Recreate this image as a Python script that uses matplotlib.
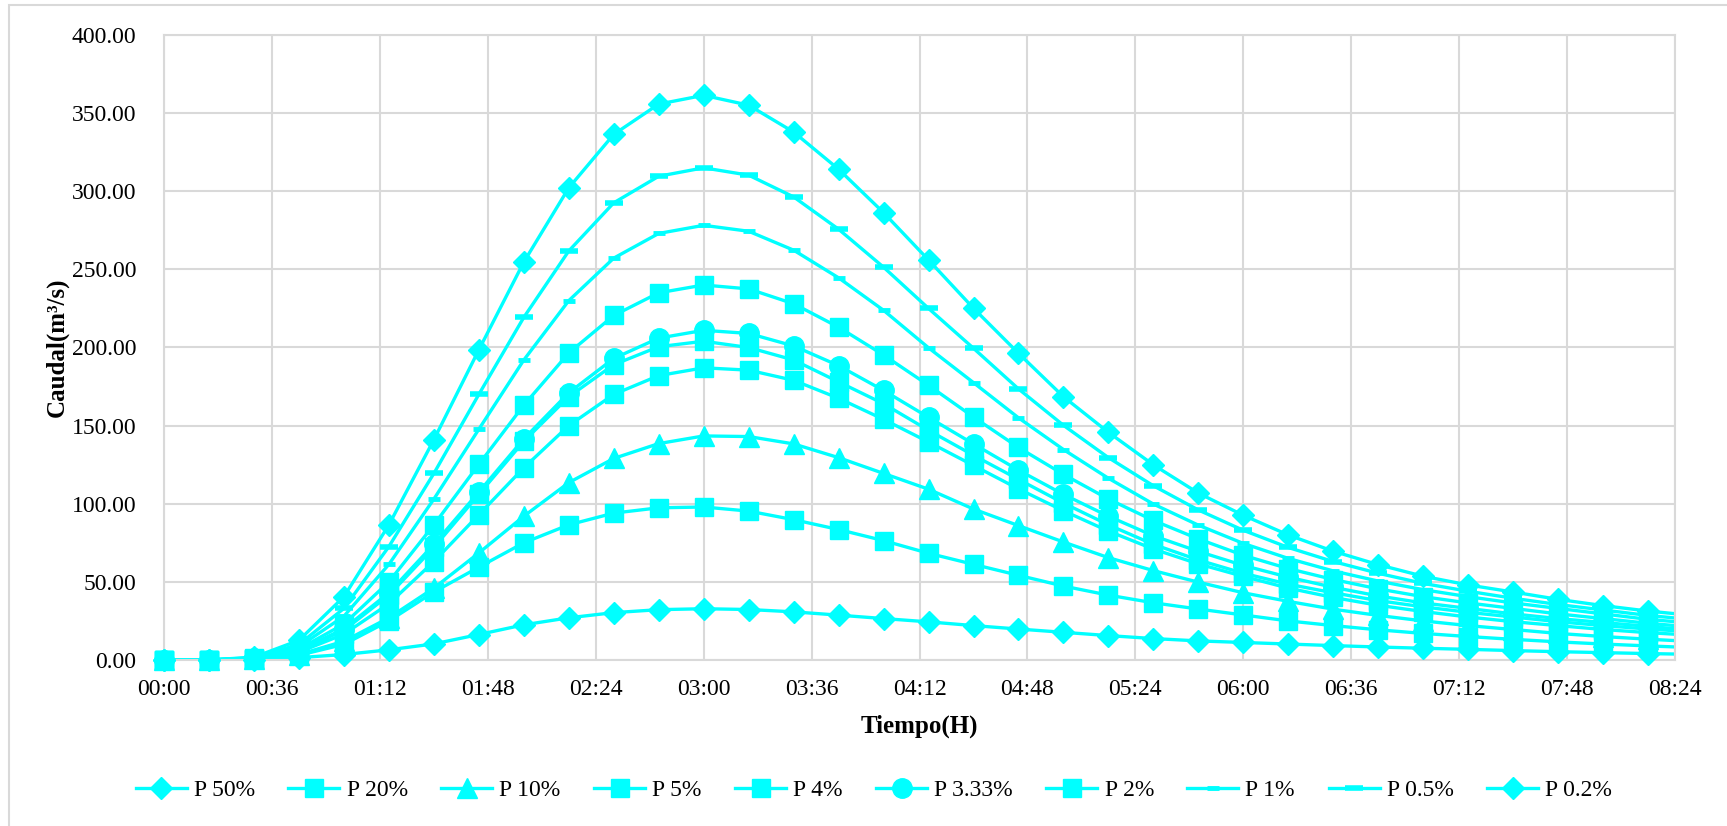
import matplotlib
matplotlib.use("Agg")
import matplotlib.pyplot as plt
from matplotlib.ticker import FixedLocator, FuncFormatter
from matplotlib.patches import Rectangle
from matplotlib.lines import Line2D

# ---- data -------------------------------------------------------------
tiempo = ["00:00", "00:15", "00:30", "00:45", "01:00", "01:15", "01:30", "01:45",
          "02:00", "02:15", "02:30", "02:45", "03:00", "03:15", "03:30", "03:45",
          "04:00", "04:15", "04:30", "04:45", "05:00", "05:15", "05:30", "05:45",
          "06:00", "06:15", "06:30", "06:45", "07:00", "07:15", "07:30", "07:45",
          "08:00", "08:15", "08:30"]

series_names = ["P 50%", "P 20%", "P 10%", "P 5%", "P 4%", "P 3.33%", "P 2%",
                "P 1%", "P 0.5%", "P 0.2%"]

p50 = [0, 0, 0.3, 1.5, 3.5, 6.5, 10.3, 16.3, 22.5, 27.0, 30.3, 32.2, 32.8,
       32.3, 30.8, 28.7, 26.5, 24.4, 22.0, 19.8, 17.7, 15.6, 13.7, 12.2,
       11.2, 10.2, 9.2, 8.3, 7.5, 6.8, 6.0, 5.3, 4.7, 4.1, 3.6]
p20 = [0, 0, 0.5, 3.0, 10.0, 25.0, 43.5, 59.4, 75.0, 86.5, 94.0, 97.4, 97.9,
       95.3, 89.8, 83.5, 76.4, 68.3, 61.2, 54.2, 47.3, 41.5, 36.6, 32.6,
       28.8, 25.0, 22.0, 19.3, 17.0, 15.0, 13.2, 11.6, 10.2, 9.0, 7.9]
p10 = [0, 0, 0.6, 3.5, 12.0, 27.0, 46.0, 68.5, 92.0, 113.5, 129.0, 138.5, 143.4,
       143.0, 138.3, 129.5, 119.4, 109.3, 96.6, 86.0, 75.5, 65.5, 57.2, 49.8,
       43.0, 37.5, 32.5, 28.5, 25.0, 22.0, 19.5, 17.0, 15.0, 13.3, 11.8]
p5 = [0, 0, 0.8, 5.0, 16.5, 36.0, 63.0, 93.0, 123.0, 150.0, 170.0, 182.0, 187.0,
      185.5, 179.0, 167.5, 154.0, 139.5, 124.5, 109.5, 95.5, 82.5, 71.0, 61.5,
      53.5, 46.0, 40.0, 35.0, 31.0, 27.5, 24.5, 22.0, 19.5, 17.5, 15.8]
p4 = [0, 0, 0.9, 5.8, 19.0, 41.5, 72.0, 106.0, 140.0, 168.5, 189.0, 200.5, 204.0,
      200.0, 192.0, 178.0, 164.0, 147.0, 131.0, 115.6, 100.4, 86.5, 74.0, 64.0,
      55.5, 48.5, 43.0, 38.0, 34.0, 30.5, 27.5, 24.5, 22.0, 19.8, 18.0]
p333 = [0, 0, 1.0, 6.0, 20.0, 43.0, 74.0, 107.5, 141.5, 171.0, 193.0, 206.0, 211.0,
        209.0, 201.0, 188.4, 172.5, 155.3, 138.3, 121.5, 106.0, 92.0, 79.5, 69.5,
        60.5, 53.0, 46.5, 41.0, 36.5, 33.0, 29.5, 26.5, 24.0, 21.5, 19.0]
p2 = [0, 0, 1.1, 7.0, 23.0, 50.0, 86.5, 125.2, 163.1, 196.5, 220.5, 235.0, 240.0,
      237.5, 228.0, 213.0, 195.2, 175.8, 155.5, 136.0, 118.8, 103.0, 89.3, 77.5,
      67.0, 58.5, 51.5, 45.5, 40.5, 36.5, 33.0, 29.5, 26.5, 23.5, 21.0]
p1 = [0, 0, 1.3, 8.5, 28.0, 61.2, 103.0, 147.7, 192.0, 230.0, 257.2, 273.0, 278.2,
      274.4, 262.3, 244.6, 223.8, 199.8, 177.5, 155.0, 134.7, 116.3, 99.8, 86.3,
      74.6, 65.0, 57.0, 50.5, 45.0, 40.5, 36.5, 33.0, 29.5, 26.0, 23.5]
p05 = [0, 0, 1.5, 10.0, 33.0, 72.6, 119.4, 170.0, 219.3, 261.8, 292.6, 309.6, 315.0,
       310.3, 296.4, 275.7, 251.4, 225.0, 199.5, 173.5, 150.2, 129.5, 111.5, 96.0,
       83.0, 72.0, 63.0, 55.5, 49.0, 44.0, 39.5, 35.5, 32.0, 28.5, 25.8]
p02 = [0, 0, 1.8, 12.6, 40.5, 86.5, 141.0, 198.5, 254.7, 302.2, 336.4, 355.8, 361.4,
       355.1, 337.9, 314.1, 286.3, 256.0, 225.1, 196.3, 168.5, 145.7, 124.9, 106.8,
       92.6, 80.0, 69.6, 61.0, 53.6, 48.0, 43.5, 38.8, 34.8, 31.3, 28.5]

x_ticks = ["00:00", "00:36", "01:12", "01:48", "02:24", "03:00", "03:36", "04:12",
           "04:48", "05:24", "06:00", "06:36", "07:12", "07:48", "08:24"]
y_ticks = [0, 50, 100, 150, 200, 250, 300, 350, 400]


def to_min(s):
    h, m = s.split(":")
    return int(h) * 60 + int(m)


xs = [to_min(t) for t in tiempo]
xt = [to_min(t) for t in x_ticks]
XMAX = xt[-1]

# ---- style ------------------------------------------------------------
plt.rcParams["font.family"] = ["Liberation Serif", "DejaVu Serif"]
CYAN = "#00FFFF"
GRID = "#D9D9D9"

fig = plt.figure(figsize=(17.27, 8.26), dpi=100)
ax = fig.add_axes([0.0950, 0.2010, 0.8749, 0.7566])

styles = [
    dict(marker="D", markersize=11),
    dict(marker="s", markersize=13),
    dict(marker="^", markersize=14),
    dict(marker="s", markersize=13),
    dict(marker="s", markersize=13),
    dict(marker="o", markersize=14),
    dict(marker="s", markersize=13),
    dict(marker="_", markersize=8, markeredgewidth=3.5),
    dict(marker="_", markersize=13, markeredgewidth=4),
    dict(marker="D", markersize=11),
]
data = [p50, p20, p10, p5, p4, p333, p2, p1, p05, p02]

handles = []
for name, ys, st in zip(series_names, data, styles):
    ax.plot(xs, ys, color=CYAN, lw=2.4)
    mx = [x for x in xs if x <= XMAX]
    my = [y for x, y in zip(xs, ys) if x <= XMAX]
    ax.plot(mx, my, ls="none", color=CYAN, markerfacecolor=CYAN,
            markeredgecolor=CYAN, clip_on=False, zorder=3, **st)
    handles.append(Line2D([], [], color=CYAN, lw=2.4, markerfacecolor=CYAN,
                          markeredgecolor=CYAN, label=name, **st))

ax.set_xlim(0, XMAX)
ax.set_ylim(0, 400)
ax.xaxis.set_major_locator(FixedLocator(xt))
ax.xaxis.set_major_formatter(FuncFormatter(lambda v, p: "%02d:%02d" % (int(round(v)) // 60, int(round(v)) % 60)))
ax.yaxis.set_major_locator(FixedLocator(y_ticks))
ax.yaxis.set_major_formatter(FuncFormatter(lambda v, p: "%.2f" % v))
ax.tick_params(axis="both", length=0, labelsize=17, colors="black")
ax.tick_params(axis="y", pad=20)
ax.tick_params(axis="x", pad=14)
ax.grid(True, color=GRID, lw=1.5)
ax.set_axisbelow(True)
for sp in ax.spines.values():
    sp.set_color(GRID)
    sp.set_linewidth(1.5)

ax.set_ylabel("Caudal(m³/s)", fontsize=18, fontweight="bold", labelpad=2)
ax.set_xlabel("Tiempo(H)", fontsize=18, fontweight="bold", labelpad=10)

fig.legend(handles=handles, loc="center", bbox_to_anchor=(0.506, 0.043), ncol=10,
           frameon=False, fontsize=17, handlelength=2.16, columnspacing=1.42,
           handletextpad=0.3)

fig.patches.append(Rectangle((0.005, -0.01), 1.0, 1.004, transform=fig.transFigure,
                             fill=False, edgecolor=GRID, lw=1.5))

fig.savefig("out.png", dpi=100)
